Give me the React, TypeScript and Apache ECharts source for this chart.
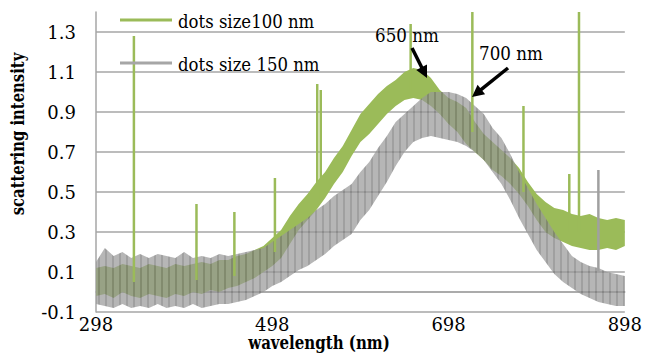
import React, { useEffect, useRef } from "react";
import * as echarts from "echarts";

// wavelength grid (nm)
const wavelengths = [
  298, 308, 318, 328, 338, 348, 358, 368, 378, 388, 398,
  408, 418, 428, 438, 448, 458, 468, 478, 488, 498,
  508, 518, 528, 538, 548, 558, 568, 578, 588, 598,
  608, 618, 628, 638, 648, 658, 668, 678, 688, 698,
  708, 718, 728, 738, 748, 758, 768, 778, 788, 798,
  808, 818, 828, 838, 848, 858, 868, 878, 888, 898,
];

// dots size 100 nm: upper and lower edge of the noisy trace
const green100Upper = [
  0.12, 0.13, 0.12, 0.14, 0.13, 0.12, 0.14, 0.13, 0.12, 0.14, 0.13,
  0.14, 0.15, 0.14, 0.16, 0.16, 0.18, 0.19, 0.21, 0.23, 0.27,
  0.31, 0.38, 0.44, 0.49, 0.55, 0.60, 0.67, 0.73, 0.81, 0.89,
  0.94, 0.99, 1.03, 1.06, 1.10, 1.12, 1.11, 1.07, 1.01, 0.97,
  0.95, 0.92, 0.85, 0.79, 0.75, 0.71, 0.67, 0.62, 0.55, 0.49,
  0.45, 0.42, 0.41, 0.39, 0.38, 0.39, 0.37, 0.36, 0.37, 0.36,
];
const green100Lower = [
  -0.02, -0.01, -0.03, 0.0, -0.02, -0.03, -0.01, -0.02, -0.03, -0.01, -0.02,
  0.0, -0.01, 0.01, 0.0, 0.02, 0.03, 0.05, 0.07, 0.1, 0.13,
  0.17, 0.24, 0.31, 0.36, 0.41, 0.47, 0.54, 0.6, 0.68, 0.75,
  0.79, 0.84, 0.89, 0.93, 0.96, 0.97, 0.96, 0.93, 0.89, 0.84,
  0.8, 0.74, 0.7, 0.66, 0.61, 0.58, 0.54, 0.49, 0.43, 0.36,
  0.3, 0.27, 0.25, 0.23, 0.22, 0.21, 0.21, 0.22, 0.21, 0.23,
];

// dots size 150 nm: upper and lower edge of the noisy trace
const gray150Upper = [
  0.15, 0.22, 0.18, 0.2, 0.17, 0.19, 0.17, 0.19, 0.18, 0.17, 0.2,
  0.17, 0.18, 0.17, 0.19, 0.18, 0.19, 0.2, 0.21, 0.22, 0.25,
  0.28, 0.31, 0.34, 0.37, 0.41, 0.44, 0.48, 0.51, 0.54, 0.6,
  0.65, 0.72, 0.78, 0.85, 0.89, 0.93, 0.97, 1.0, 1.0, 1.0,
  0.99, 0.97, 0.93, 0.89, 0.82, 0.77, 0.69, 0.6, 0.52, 0.44,
  0.37, 0.3, 0.24, 0.18, 0.15, 0.13, 0.12, 0.1, 0.09, 0.08,
];
const gray150Lower = [
  -0.06, -0.07, -0.08, -0.06, -0.08, -0.07, -0.08, -0.06, -0.08, -0.07, -0.08,
  -0.06, -0.08, -0.07, -0.06, -0.06, -0.05, -0.04, -0.02, 0.0, 0.03,
  0.05, 0.08, 0.11, 0.13, 0.16, 0.19, 0.23, 0.26, 0.29, 0.36,
  0.41, 0.48, 0.55, 0.63, 0.7, 0.75, 0.77, 0.78, 0.77, 0.76,
  0.75, 0.73, 0.7, 0.66, 0.6, 0.54, 0.46, 0.37, 0.29, 0.21,
  0.15, 0.09, 0.05, 0.02, -0.01, -0.03, -0.05, -0.06, -0.07, -0.07,
];

// isolated spikes
const green100SpikeX = [341, 412, 455, 501, 549, 553, 655, 725, 783, 835, 846];
const green100SpikeBase = [0.05, 0.06, 0.08, 0.2, 0.45, 0.46, 1.0, 0.8, 0.5, 0.3, 0.3];
const green100SpikeTop = [1.28, 0.44, 0.4, 0.57, 1.04, 1.01, 1.34, 1.4, 0.93, 0.59, 1.4];
const gray150SpikeX = [868];
const gray150SpikeBase = [0.1];
const gray150SpikeTop = [0.61];

// axes
const xMin = 298;
const xMax = 898;
const xLabelStep = 200;
const yMin = -0.1;
const yMax = 1.4;
const yLabelTicks = [-0.1, 0.1, 0.3, 0.5, 0.7, 0.9, 1.1, 1.3];
const yExtraLines = [0];

const seriesNames = ["dots size100 nm", "dots size 150 nm"];
const annotationTexts = ["650 nm", "700 nm"];
const xAxisTitle = "wavelength (nm)";
const yAxisTitle = "scattering intensity";

const GREEN = "#9bbb59";
const GRAY = "#979797";
const GRAY_STRIPE = "#777777";
const GRAY_LEGEND = "#a6a6a6";
const GRID = "#a6a6a6";
const FONT = "DejaVu Serif";

function makeStripePattern(): any {
  const c = document.createElement("canvas");
  c.width = 7;
  c.height = 4;
  const ctx = c.getContext("2d");
  if (ctx) {
    ctx.fillStyle = GRAY;
    ctx.fillRect(0, 0, 7, 4);
    ctx.fillStyle = GRAY_STRIPE;
    ctx.fillRect(0, 0, 2, 4);
  }
  return { image: c, repeat: "repeat" };
}

function bandSeries(
  name: string,
  lower: number[],
  upper: number[],
  fill: any,
  opacity: number,
  z: number
) {
  return {
    name,
    type: "custom",
    silent: true,
    z,
    data: [[wavelengths[0], lower[0]]],
    renderItem: (_params: any, api: any) => {
      const pts: number[][] = [];
      for (let i = 0; i < wavelengths.length; i++) {
        pts.push(api.coord([wavelengths[i], upper[i]]));
      }
      for (let i = wavelengths.length - 1; i >= 0; i--) {
        pts.push(api.coord([wavelengths[i], lower[i]]));
      }
      return {
        type: "polygon",
        shape: { points: pts },
        style: { fill, opacity },
      };
    },
  };
}

function spikeData(xs: number[], base: number[], top: number[]) {
  const out: any[] = [];
  xs.forEach((x, i) => {
    out.push([x, base[i]], [x, top[i]], [x, "-"]);
  });
  return out;
}

function arrow(x1: number, y1: number, x2: number, y2: number) {
  const dx = x2 - x1;
  const dy = y2 - y1;
  const len = Math.sqrt(dx * dx + dy * dy);
  const ux = dx / len;
  const uy = dy / len;
  const head = 12;
  const half = 6;
  const bx = x2 - ux * head;
  const by = y2 - uy * head;
  const px = -uy * half;
  const py = ux * half;
  return [
    {
      type: "line",
      shape: { x1, y1, x2: bx + ux * 2, y2: by + uy * 2 },
      style: { stroke: "#000", lineWidth: 3.5 },
      z: 100,
    },
    {
      type: "polygon",
      shape: { points: [[x2, y2], [bx + px, by + py], [bx - px, by - py]] },
      style: { fill: "#000" },
      z: 100,
    },
  ];
}

function textEl(
  text: string,
  x: number,
  y: number,
  align: string,
  scaleX: number,
  bold = false,
  rotation = 0
) {
  return {
    type: "text",
    x,
    y,
    rotation,
    scaleX,
    z: 100,
    style: {
      text,
      fontFamily: FONT,
      fontSize: 19,
      fontWeight: bold ? "bold" : "normal",
      fill: "#000",
      align,
      verticalAlign: "middle",
    },
  };
}

export default function App() {
  const ref = useRef<HTMLDivElement>(null);

  useEffect(() => {
    if (!ref.current) return;
    const chart = echarts.init(ref.current, null, { renderer: "svg" });

    // y split lines every 0.1; only labelled ticks and the zero line are drawn
    const yTickCount = Math.round((yMax - yMin) / 0.1) + 1;
    const splitColors: string[] = [];
    for (let i = 0; i < yTickCount; i++) {
      const v = +(yMin + i * 0.1).toFixed(1);
      const visible =
        yLabelTicks.some((t) => Math.abs(t - v) < 1e-6) ||
        yExtraLines.some((t) => Math.abs(t - v) < 1e-6);
      splitColors.push(visible ? GRID : "rgba(0,0,0,0)");
    }

    const option: any = {
      animation: false,
      backgroundColor: "#fff",
      grid: { left: 96, right: 18, top: 12, bottom: 41 },
      xAxis: {
        type: "value",
        min: xMin,
        max: xMax,
        interval: 2,
        axisLine: { show: true, lineStyle: { color: GRID, width: 1.5 } },
        axisTick: { show: false },
        splitLine: { show: false },
        axisLabel: {
          margin: 3,
          fontFamily: FONT,
          fontSize: 18,
          color: "#000",
          formatter: (v: number) =>
            Math.round(v - xMin) % xLabelStep === 0 ? String(Math.round(v)) : "",
        },
      },
      yAxis: {
        type: "value",
        min: yMin,
        max: yMax,
        interval: 0.1,
        axisLine: { show: true, lineStyle: { color: GRID, width: 1.5 } },
        axisTick: { show: false },
        splitLine: {
          show: true,
          showMaxLine: false,
          lineStyle: { color: splitColors, width: 1.5 },
        },
        axisLabel: {
          margin: 20,
          fontFamily: FONT,
          fontSize: 18,
          color: "#000",
          formatter: (v: number) => {
            const hit = yLabelTicks.find((t) => Math.abs(t - v) < 1e-6);
            return hit === undefined ? "" : hit.toFixed(1);
          },
        },
      },
      series: [
        bandSeries(seriesNames[0], green100Lower, green100Upper, GREEN, 1, 2),
        bandSeries(seriesNames[1], gray150Lower, gray150Upper, makeStripePattern(), 0.7, 3),
        {
          name: "green-spikes",
          type: "line",
          data: spikeData(green100SpikeX, green100SpikeBase, green100SpikeTop),
          showSymbol: false,
          symbol: "none",
          silent: true,
          connectNulls: false,
          lineStyle: { color: GREEN, width: 2.5 },
          z: 4,
        },
        {
          name: "gray-spikes",
          type: "line",
          data: spikeData(gray150SpikeX, gray150SpikeBase, gray150SpikeTop),
          showSymbol: false,
          symbol: "none",
          silent: true,
          connectNulls: false,
          lineStyle: { color: "#a0a0a0", width: 2.5 },
          z: 4,
        },
      ],
      graphic: [
        // legend
        {
          type: "line",
          shape: { x1: 120, y1: 20, x2: 172, y2: 20 },
          style: { stroke: GREEN, lineWidth: 3 },
          z: 100,
        },
        textEl(seriesNames[0], 178, 21, "left", 0.87),
        {
          type: "line",
          shape: { x1: 120, y1: 63, x2: 172, y2: 63 },
          style: { stroke: GRAY_LEGEND, lineWidth: 3 },
          z: 100,
        },
        textEl(seriesNames[1], 178, 64, "left", 0.87),
        // annotations
        textEl(annotationTexts[0], 407, 35, "center", 0.88),
        ...arrow(412, 48, 427, 78),
        textEl(annotationTexts[1], 511, 53, "center", 0.88),
        ...arrow(508, 68, 472, 97),
        // axis titles
        textEl(xAxisTitle, 319, 342, "center", 0.79, true),
        textEl(yAxisTitle, 17, 134, "center", 0.78, true, Math.PI / 2),
      ],
    };

    chart.setOption(option);
    return () => chart.dispose();
  }, []);

  return (
    <div
      ref={ref}
      style={{ position: "fixed", left: 0, top: 0, width: 645, height: 353 }}
    />
  );
}
